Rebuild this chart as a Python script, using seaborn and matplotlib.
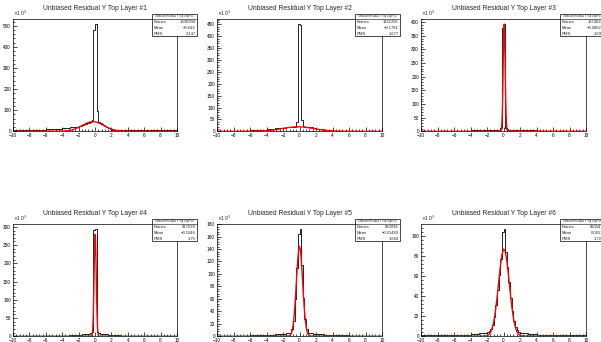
import seaborn as sns
import matplotlib.pyplot as plt
from matplotlib.ticker import MultipleLocator
from matplotlib.patches import Rectangle
from matplotlib.lines import Line2D

# bin edges shared by all six histograms (fine near 0, coarse in the tails)
EDGES = [-10, -8, -6, -4, -3, -2.0, -1.8, -1.6, -1.4, -1.2, -1.0, -0.8, -0.6, -0.4, -0.2,
         0.0, 0.2, 0.4, 0.6, 0.8, 1.0, 1.2, 1.4, 1.6, 1.8, 2.0, 3, 4, 6, 8, 10]

# bin contents in units of 10^3
COUNTS_1 = [5, 6, 11, 16, 20, 24, 27, 30, 33, 36, 39, 40, 42, 55, 480,
            507, 95, 45, 40, 35, 30, 25, 20, 15, 11, 6, 5, 5, 5, 5]
COUNTS_2 = [2, 3, 6, 9, 12, 14, 15, 16, 16, 17, 17, 18, 20, 41, 450,
            446, 48, 22, 20, 19, 18, 17, 16, 15, 13, 9, 4, 2, 1.5, 1.5]
COUNTS_3 = [1.5, 2, 2.5, 3, 3.5, 4, 4, 4, 4.5, 4.5, 5, 5, 6, 12, 378,
            392, 13, 7, 6.5, 6, 6, 5.5, 5.5, 5, 5, 4, 3, 2.5, 2, 1.5]
COUNTS_4 = [1, 1, 1.5, 2, 3, 4, 4.5, 5, 5.5, 6, 6.5, 7, 8, 12, 292,
            294, 12, 8, 7, 6.5, 6, 5.5, 5, 4.5, 4, 3, 2, 1.5, 1, 1]
COUNTS_5 = [0.5, 0.8, 1.5, 2, 3, 3.5, 4, 4.5, 5, 6, 11, 25, 60, 110, 164,
            172, 115, 62, 28, 12, 6, 5, 4.5, 4, 3.5, 3, 2, 1.5, 1, 0.5]
COUNTS_6 = [0.8, 1, 1.5, 2, 3, 4.5, 5.5, 7, 11, 19, 31, 46, 61, 77, 104,
            106.6, 84, 69, 54, 38, 25, 15, 9, 6, 4.5, 3, 2, 1.5, 1, 0.8]

# red gaussian fit curves
FIT_X_1 = [-10, -4, -3.5, -3, -2.5, -2, -1.5, -1, -0.5, -0.25, 0, 0.5, 1, 1.5, 2, 2.5, 3, 3.5, 10]
FIT_Y_1 = [0, 0.7, 2.0, 4.9, 10.3, 18.6, 29, 39, 45, 46, 45, 39, 29, 18.6, 10.3, 4.9, 2.0, 0.7, 0]
FIT_X_2 = [-10, -7, -6, -5, -4, -3.5, -3, -2.5, -2, -1.5, -1, -0.5, 0, 0.5, 1, 1.5,
           2, 2.5, 3, 3.5, 4, 5, 6, 10]
FIT_Y_2 = [0, 0.03, 0.2, 0.8, 2.6, 4.2, 6.4, 9.1, 12.1, 15.0, 17.4, 18.8, 18.9, 17.8, 15.6, 12.7,
           9.7, 6.9, 4.6, 2.85, 1.65, 0.45, 0.1, 0]
FIT_X_3 = [-10, -0.4, -0.35, -0.3, -0.25, -0.2, -0.15, -0.1, -0.05, 0, 0.05, 0.1, 0.15,
           0.2, 0.25, 0.3, 0.35, 0.4, 0.45, 0.5, 10]
FIT_Y_3 = [0, 0.1, 0.6, 2.6, 9, 26, 63, 128, 220, 317, 383, 393, 333,
           240, 145, 74, 31, 11, 3.4, 0.9, 0]
FIT_X_4 = [-10, -0.45, -0.4, -0.35, -0.3, -0.25, -0.2, -0.15, -0.1, -0.05, 0, 0.05, 0.1,
           0.15, 0.2, 0.25, 0.3, 0.35, 0.4, 0.45, 0.5, 10]
FIT_Y_4 = [0, 0.4, 1.5, 4.9, 13.7, 32.6, 67.6, 120, 185, 245, 280, 276, 234,
           172, 108, 59, 28, 11.3, 4, 1.2, 0.3, 0]
FIT_X_5 = [-10, -1.3, -1.2, -1.1, -1.0, -0.9, -0.8, -0.7, -0.6, -0.5, -0.4, -0.3, -0.2, -0.1, 0,
           0.1, 0.2, 0.3, 0.4, 0.5, 0.6, 0.7, 0.8, 0.9, 1.0, 1.1, 1.2, 1.3, 10]
FIT_Y_5 = [0, 0.41, 0.98, 2.2, 4.5, 8.7, 15.7, 26.4, 41.4, 60.6, 82.8, 105.5, 125, 139, 144,
           139, 125, 105.5, 82.8, 60.6, 41.4, 26.4, 15.7, 8.7, 4.5, 2.2, 0.98, 0.41, 0]
FIT_X_6 = [-10, -2.2, -2.0, -1.8, -1.6, -1.4, -1.2, -1.0, -0.8, -0.6, -0.4, -0.2, 0,
           0.2, 0.4, 0.6, 0.8, 1.0, 1.2, 1.4, 1.6, 1.8, 2.0, 2.2, 10]
FIT_Y_6 = [0, 0.22, 0.6, 1.5, 3.5, 7.2, 13.7, 23.6, 37, 52.8, 68.5, 80.8, 86.7,
           84.7, 75.3, 60.8, 44.7, 29.9, 18.2, 10.1, 5.1, 2.3, 0.97, 0.37, 0]

LAYERS = ["#1", "#2", "#3", "#4", "#5", "#6"]
ENTRIES = ["1930994", "1321205", "1074022", "917599", "860094", "820547"]
MEANS = ["-0.643", "-0.1781", "-0.08821", "-0.1046", "-0.01483", "0.0651"]
RMS = ["2.147", "1.677", "1.692", "1.75", "1.664", "1.723"]
Y_MAJOR = [100, 50, 50, 50, 20, 20]

counts = [COUNTS_1, COUNTS_2, COUNTS_3, COUNTS_4, COUNTS_5, COUNTS_6]
fits = [(FIT_X_1, FIT_Y_1), (FIT_X_2, FIT_Y_2), (FIT_X_3, FIT_Y_3),
        (FIT_X_4, FIT_Y_4), (FIT_X_5, FIT_Y_5), (FIT_X_6, FIT_Y_6)]
centers = [(a + b) / 2 for a, b in zip(EDGES[:-1], EDGES[1:])]

sns.set_theme(style="white")
plt.rcParams['font.family'] = ['Liberation Sans', 'DejaVu Sans']
plt.rcParams['axes.unicode_minus'] = True

W, H = 601, 342
fig = plt.figure(figsize=(W / 100, H / 100), dpi=100)

cols = [(13, 177), (217, 382), (421, 586)]
rows = [(19, 131.3), (223.7, 336.3)]
box_cols = [(152, 197), (355, 400), (560, 605)]
box_rows = [14, 219]


def fx(x):
    return x / W


def fy(y):
    return 1 - y / H


for i in range(6):
    r, c = divmod(i, 3)
    x0, x1 = cols[c]
    y0, y1 = rows[r]
    ax = fig.add_axes([fx(x0), fy(y1), (x1 - x0) / W, (y1 - y0) / H])

    sns.histplot(x=centers, weights=counts[i], bins=EDGES, element="step", fill=False,
                 color="black", linewidth=0.6, ax=ax)
    sns.lineplot(x=fits[i][0], y=fits[i][1], color="red", linewidth=1.0, ax=ax)

    ax.set_xlim(-10, 10)
    ax.set_ylim(0, 1.05 * max(counts[i]))
    ax.set_xlabel("")
    ax.set_ylabel("")
    ax.xaxis.set_major_locator(MultipleLocator(2))
    ax.xaxis.set_minor_locator(MultipleLocator(0.4))
    ax.yaxis.set_major_locator(MultipleLocator(Y_MAJOR[i]))
    ax.yaxis.set_minor_locator(MultipleLocator(Y_MAJOR[i] / 5))
    ax.tick_params(which="both", direction="in", top=False, right=False,
                   bottom=True, left=True, width=0.5, colors="black",
                   labelsize=3.4, pad=1.5)
    ax.tick_params(which="major", length=3)
    ax.tick_params(which="minor", length=1.5)
    for s in ax.spines.values():
        s.set_linewidth(0.5)
        s.set_color("black")
    ax.text(0.0, 1.005, r"$\times10^{3}$", transform=ax.transAxes,
            ha="left", va="bottom", fontsize=3.4)

    # title
    fig.text(fx((x0 + x1) / 2), fy(y0 - 10), f"Unbiased Residual Y Top Layer {LAYERS[i]}",
             ha="center", va="center", fontsize=4.9)

    # stats box
    bx0, bx1 = box_cols[c]
    by0 = box_rows[r]
    by1 = by0 + 22
    fig.patches.append(Rectangle((fx(bx0), fy(by1)), (bx1 - bx0) / W, (by1 - by0) / H,
                                 transform=fig.transFigure, facecolor="white",
                                 edgecolor="black", linewidth=0.5, zorder=5))
    fig.lines.append(Line2D([fx(bx0), fx(bx1)], [fy(by0 + 4.5)] * 2,
                            transform=fig.transFigure, color="black", linewidth=0.4, zorder=6))
    fig.text(fx((bx0 + bx1) / 2), fy(by0 + 2.3), f"Unbiased Residual Y Top Layer {LAYERS[i]}",
             ha="center", va="center", fontsize=1.8, zorder=7)
    for k, (lab, val) in enumerate([("Entries", ENTRIES[i]), ("Mean", MEANS[i]), ("RMS", RMS[i])]):
        yy = fy(by0 + 8.3 + 5.7 * k)
        fig.text(fx(bx0 + 1.8), yy, lab, ha="left", va="center", fontsize=3.0, zorder=7)
        fig.text(fx(bx1 - 1.5), yy, val.replace("-", "\u2212"), ha="right", va="center",
                 fontsize=3.0, zorder=7)

fig.savefig("out.png", dpi=100, facecolor="white")
